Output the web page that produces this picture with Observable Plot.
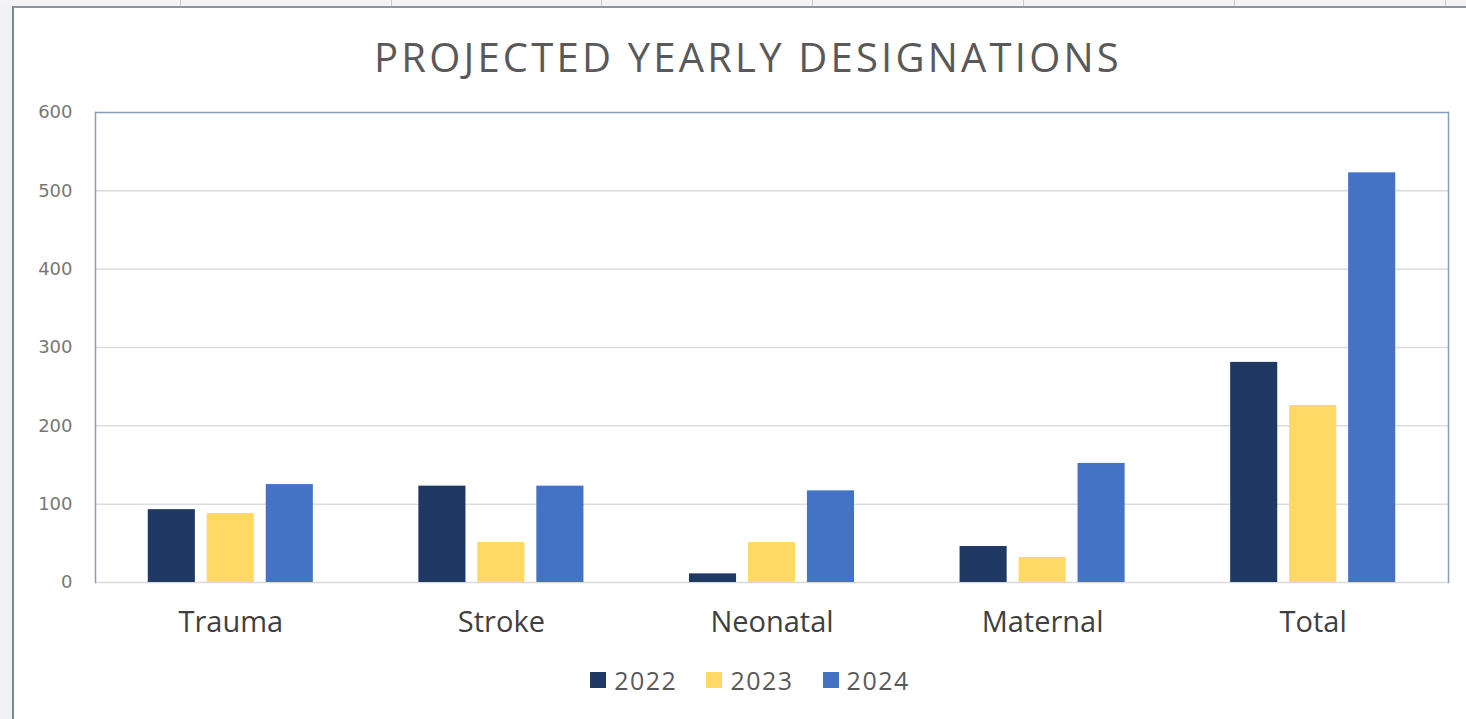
<!DOCTYPE html>
<html>
<head>
<meta charset="utf-8">
<script src="https://cdn.jsdelivr.net/npm/d3@7"></script>
<script src="https://cdn.jsdelivr.net/npm/@observablehq/plot@0.6"></script>
<style>
  html, body { margin: 0; padding: 0; width: 1466px; height: 719px; overflow: hidden; background: #f1f1f3; font-family: "Open Sans", sans-serif; }
  #topstrip { position: absolute; left: 0; top: 0; width: 1466px; height: 6px; background: #f3f3f5; }
  .col { position: absolute; top: 0; width: 1px; height: 6px; background: #c9cbd3; }
  #card { position: absolute; left: 12px; top: 6px; width: 1454px; height: 713px; background: #ffffff; border-left: 2px solid #7d8699; border-top: 2px solid #8d94a4; box-sizing: border-box; }
  #title { position: absolute; left: 0; width: 1496px; top: 29px; text-align: center; font-size: 40px; color: #595959; letter-spacing: 3.2px; }
  #chart { position: absolute; left: 0; top: 0; }
  #legend { position: absolute; top: 663px; left: 0; width: 1500px; display: flex; justify-content: center; gap: 29px; font-size: 25px; color: #595959; letter-spacing: 1.5px; }
  .item { display: flex; align-items: center; }
  .sw { width: 16px; height: 16px; margin-right: 8px; }
</style>
</head>
<body>
<div id="topstrip"></div>
<div id="card"></div>
<div id="title">PROJECTED YEARLY DESIGNATIONS</div>
<div id="chart"></div>
<div id="legend"></div>
<script>
const categories = ["Trauma", "Stroke", "Neonatal", "Maternal", "Total"];
const years = ["2022", "2023", "2024"];
const v2022 = [93, 123, 11, 46, 281];
const v2023 = [88, 51, 51, 32, 226];
const v2024 = [125, 123, 117, 152, 523];
const yearColors = ["#203864", "#FFD966", "#4472C4"];
const yTicks = [0, 100, 200, 300, 400, 500, 600];

// spreadsheet column markers in the top strip (decoration)
const colMarks = [180, 391, 601, 812, 1023, 1234, 1445];
const strip = document.getElementById("topstrip");
colMarks.forEach(x => { const d = document.createElement("div"); d.className = "col"; d.style.left = x + "px"; strip.appendChild(d); });

const series = [v2022, v2023, v2024];
const rows = [];
categories.forEach((c, ci) => {
  years.forEach((yr, yi) => rows.push({category: c, ci, year: yr, yi, value: series[yi][ci]}));
});

// layout within each category slot (in category units)
const barStep = 0.218, barWidth = 0.174;
const x1 = d => d.ci + 0.5 + (d.yi - 1) * barStep - barWidth / 2;
const x2 = d => x1(d) + barWidth;

const chart = Plot.plot({
  width: 1466,
  height: 650,
  marginLeft: 95,
  marginRight: 18,
  marginTop: 112,
  marginBottom: 68,
  style: {background: "transparent", fontFamily: "Open Sans, sans-serif"},
  x: {domain: [0, categories.length], axis: null},
  y: {domain: [0, 600], axis: null},
  color: {domain: years, range: yearColors},
  marks: [
    Plot.ruleY(yTicks.slice(1, -1), {stroke: "#dcdcdc", strokeWidth: 1.5}),
    Plot.ruleY([0], {stroke: "#d9d9d9", strokeWidth: 1.5}),
    Plot.rectY(rows, {x1, x2, y: "value", fill: "year"}),
    Plot.frame({anchor: "left", stroke: "#8a9bbd", strokeWidth: 1.5}),
    Plot.frame({anchor: "top", stroke: "#8a9bbd", strokeWidth: 1.5}),
    Plot.frame({anchor: "right", stroke: "#8a9bbd", strokeWidth: 1.5}),
    Plot.axisY(yTicks, {label: null, tickSize: 0, tickPadding: 23, fontSize: 18, fontFamily: "DejaVu Sans", fill: "#777777", tickFormat: d => String(d)}),
    Plot.axisX(categories.map((c, i) => i + 0.5), {label: null, tickSize: 0, tickPadding: 29, fontSize: 29, fill: "#3f3f3f", tickFormat: d => categories[Math.floor(d)]})
  ]
});
document.getElementById("chart").appendChild(chart);

const legend = document.getElementById("legend");
years.forEach((yr, i) => {
  const item = document.createElement("div");
  item.className = "item";
  const sw = document.createElement("div");
  sw.className = "sw";
  sw.style.background = yearColors[i];
  const t = document.createElement("span");
  t.textContent = yr;
  item.appendChild(sw);
  item.appendChild(t);
  legend.appendChild(item);
});
</script>
</body>
</html>
